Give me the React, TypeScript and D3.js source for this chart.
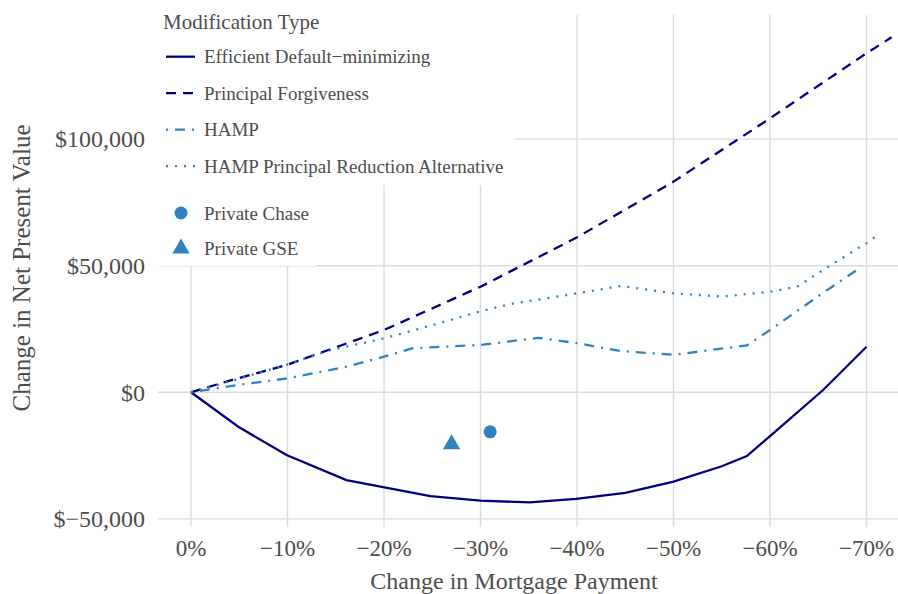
import React, { useRef, useEffect } from 'react';
import * as d3 from 'd3';

// change in mortgage payment (percent) and change in NPV (dollars)
const efficientX = [0, -4.9, -9.9, -16.1, -24.8, -30, -35.1, -39.9, -45, -50, -55, -57.6, -60, -65.5, -70];
const efficientY = [0, -13600, -24800, -34700, -41000, -42800, -43500, -42100, -39700, -35300, -29200, -25200, -17300, 900, 18000];

const forgivenessX = [0, -4.1, -10, -20, -30, -40, -50, -60, -70, -72.6];
const forgivenessY = [0, 4700, 10900, 24600, 41700, 61200, 83200, 108200, 133900, 140200];

const hampX = [0, -4.9, -10, -16.1, -20, -23, -30, -36, -40, -44.5, -50, -57.6, -60, -65.2, -69.5];
const hampY = [0, 2900, 5500, 10100, 14100, 17400, 18700, 21500, 19400, 16300, 14800, 18500, 24600, 38500, 49600];

const praX = [0, -5, -10, -14.4, -20, -25, -30, -33.4, -36.2, -40, -44.6, -50, -55, -60, -62.8, -66.6, -70, -71.4];
const praY = [0, 5400, 11000, 16600, 21300, 26500, 32000, 35100, 36700, 39100, 42000, 39100, 37800, 39700, 41700, 51000, 58900, 62800];

const chasePoint = { x: -31, y: -15600 };
const gsePoint = { x: -27, y: -20500 };

const xTicks = [0, -10, -20, -30, -40, -50, -60, -70];
const yTicks = [-50000, 0, 50000, 100000];

const lineLegend = ['Efficient Default\u2212minimizing', 'Principal Forgiveness', 'HAMP', 'HAMP Principal Reduction Alternative'];
const pointLegend = ['Private Chase', 'Private GSE'];

const NAVY = '#000080';
const STEEL = '#3182bd';
const TEXT = '#4d4d4d';
const GRID = '#dcdcdc';
const FONT = '"Liberation Serif", "Times New Roman", serif';

const zip = (xs: number[], ys: number[]) => xs.map((x, i) => ({ x, y: ys[i] }));

const App = () => {
  const svgRef = useRef<SVGSVGElement>(null);

  useEffect(() => {
    if (!svgRef.current) return;
    const width = 898;
    const height = 594;
    const panel = { left: 158, right: 898, top: 15, bottom: 527 };

    const svg = d3.select(svgRef.current);
    svg.selectAll('*').remove();

    const x = d3.scaleLinear().domain([3.42, -73.26]).range([panel.left, panel.right]);
    const y = d3.scaleLinear().domain([149000, -53200]).range([panel.top, panel.bottom]);

    // grid
    const grid = svg.append('g');
    grid.selectAll('line.v')
      .data(xTicks)
      .join('line')
      .attr('class', 'v')
      .attr('x1', d => x(d)).attr('x2', d => x(d))
      .attr('y1', panel.top).attr('y2', panel.bottom)
      .attr('stroke', GRID).attr('stroke-width', 1.4);
    grid.selectAll('line.h')
      .data(yTicks)
      .join('line')
      .attr('class', 'h')
      .attr('x1', panel.left).attr('x2', panel.right)
      .attr('y1', d => y(d)).attr('y2', d => y(d))
      .attr('stroke', GRID).attr('stroke-width', 1.4);

    // tick labels
    svg.append('g')
      .selectAll('text')
      .data(xTicks)
      .join('text')
      .attr('x', d => x(d))
      .attr('y', 556)
      .attr('text-anchor', 'middle')
      .attr('font-family', FONT).attr('font-size', 23).attr('fill', TEXT)
      .text(d => (d === 0 ? '0%' : `\u2212${Math.abs(d)}%`));

    const fmt = d3.format(',');
    svg.append('g')
      .selectAll('text')
      .data(yTicks)
      .join('text')
      .attr('x', 145)
      .attr('y', d => y(d))
      .attr('dy', '0.35em')
      .attr('text-anchor', 'end')
      .attr('font-family', FONT).attr('font-size', 24).attr('fill', TEXT)
      .text(d => (d < 0 ? `$\u2212${fmt(-d)}` : `$${fmt(d)}`));

    // axis titles
    svg.append('text')
      .attr('x', (panel.left + panel.right) / 2 - 14)
      .attr('y', 589)
      .attr('text-anchor', 'middle')
      .attr('font-family', FONT).attr('font-size', 24).attr('fill', TEXT)
      .text('Change in Mortgage Payment');

    svg.append('text')
      .attr('transform', `translate(30, ${268}) rotate(-90)`)
      .attr('text-anchor', 'middle')
      .attr('font-family', FONT).attr('font-size', 25).attr('fill', TEXT)
      .text('Change in Net Present Value');

    // series
    const line = d3.line<{ x: number; y: number }>()
      .x(d => x(d.x))
      .y(d => y(d.y));

    const series = [
      { data: zip(efficientX, efficientY), color: NAVY, dash: null },
      { data: zip(forgivenessX, forgivenessY), color: NAVY, dash: '10,7' },
      { data: zip(hampX, hampY), color: STEEL, dash: '2,7,10,7' },
      { data: zip(praX, praY), color: STEEL, dash: '2,7' },
    ];

    const plot = svg.append('g');
    series.forEach(s => {
      plot.append('path')
        .datum(s.data)
        .attr('fill', 'none')
        .attr('stroke', s.color)
        .attr('stroke-width', 2.3)
        .attr('stroke-dasharray', s.dash)
        .attr('d', line);
    });

    plot.append('circle')
      .attr('cx', x(chasePoint.x)).attr('cy', y(chasePoint.y))
      .attr('r', 6.5).attr('fill', STEEL);
    plot.append('path')
      .attr('transform', `translate(${x(gsePoint.x)},${y(gsePoint.y)})`)
      .attr('d', d3.symbol(d3.symbolTriangle, 130))
      .attr('fill', STEEL);

    // legends
    const legend = svg.append('g');
    legend.append('rect')
      .attr('x', 150).attr('y', 0).attr('width', 365).attr('height', 185)
      .attr('fill', 'white');
    legend.append('rect')
      .attr('x', 150).attr('y', 185).attr('width', 166).attr('height', 81)
      .attr('fill', 'white');

    legend.append('text')
      .attr('x', 163).attr('y', 29)
      .attr('font-family', FONT).attr('font-size', 21).attr('fill', TEXT)
      .text('Modification Type');

    lineLegend.forEach((label, i) => {
      const ly = 56.7 + i * 36.5;
      legend.append('line')
        .attr('x1', 166).attr('x2', 195)
        .attr('y1', ly).attr('y2', ly)
        .attr('stroke', series[i].color)
        .attr('stroke-width', 2.3)
        .attr('stroke-dasharray', series[i].dash);
      legend.append('text')
        .attr('x', 204).attr('y', ly)
        .attr('dy', '0.35em')
        .attr('font-family', FONT).attr('font-size', 19).attr('fill', TEXT)
        .text(label);
    });

    pointLegend.forEach((label, i) => {
      const ly = 213 + i * 35.5;
      if (i === 0) {
        legend.append('circle')
          .attr('cx', 181).attr('cy', ly).attr('r', 6.5).attr('fill', STEEL);
      } else {
        legend.append('path')
          .attr('transform', `translate(181,${ly})`)
          .attr('d', d3.symbol(d3.symbolTriangle, 130))
          .attr('fill', STEEL);
      }
      legend.append('text')
        .attr('x', 204).attr('y', ly)
        .attr('dy', '0.35em')
        .attr('font-family', FONT).attr('font-size', 19).attr('fill', TEXT)
        .text(label);
    });

    svg.attr('width', width).attr('height', height);
  }, []);

  return (
    <div style={{ position: 'absolute', left: 0, top: 0 }}>
      <svg ref={svgRef} width={898} height={594} style={{ display: 'block', background: 'white' }} />
    </div>
  );
};

export default App;
